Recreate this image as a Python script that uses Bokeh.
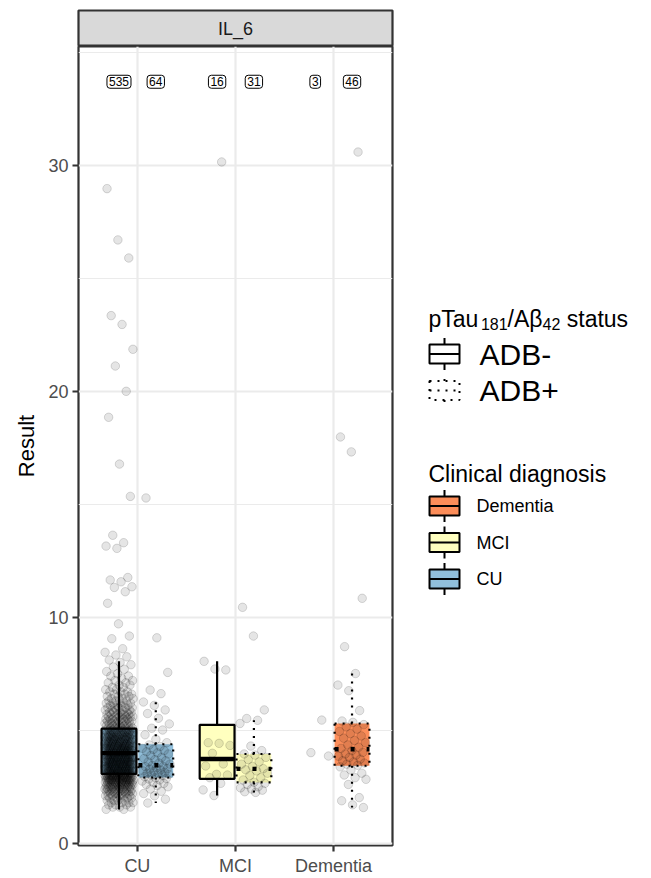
from bokeh.plotting import figure
from bokeh.layouts import row, column
from bokeh.models import Range1d, FixedTicker, Label
from bokeh.embed import file_html
from bokeh.resources import INLINE

FONT = "Liberation Sans"

# ---------------------------------------------------------------- data
diagnoses = ["CU", "MCI", "Dementia"]
diag_colors = {"CU": "#91BFDB", "MCI": "#FFFFBF", "Dementia": "#FC8D59"}
statuses = ["ADB-", "ADB+"]

# CU / ADB-: dense bulk as a 0.1-step frequency table, plus the high values
cu_neg_bulk_values = [1.5, 1.6, 1.7, 1.8, 1.9, 2.0, 2.1, 2.2, 2.3, 2.4, 2.5, 2.6, 2.7, 2.8, 2.9, 3.0,
                      3.1, 3.2, 3.3, 3.4, 3.5, 3.6, 3.7, 3.8, 3.9,
                      4.0, 4.1, 4.2, 4.3, 4.4, 4.5, 4.6, 4.7, 4.8, 4.9, 5.0,
                      5.1, 5.2, 5.3, 5.4, 5.5, 5.6, 5.7, 5.8, 5.9, 6.0, 6.1, 6.2, 6.3, 6.4, 6.5,
                      6.6, 6.7, 6.8, 6.9, 7.0, 7.1, 7.2, 7.3, 7.4, 7.5, 7.6, 7.7, 7.8, 7.9, 8.0]
cu_neg_bulk_counts = [2, 3, 3, 4, 4, 5, 6, 7, 8, 9, 10, 12, 13, 15, 16, 17,
                      15, 15, 15, 15, 15, 15, 15, 15, 14,
                      15, 14, 14, 13, 13, 12, 12, 11, 11, 10, 9,
                      7, 7, 6, 6, 7, 6, 6, 5, 5, 5, 4, 4, 4, 3, 3,
                      3, 3, 2, 2, 2, 2, 2, 1, 2, 1, 1, 1, 1, 1, 1]
cu_neg_high = [8.11, 8.25, 8.33, 8.45, 8.61, 9.05, 9.17, 9.71, 10.62, 11.13, 11.32, 11.35,
               11.57, 11.65, 11.76, 13.05, 13.15, 13.30, 13.63, 15.35, 16.78, 18.85, 20.0,
               21.12, 21.86, 22.96, 23.35, 25.90, 26.70, 28.97]

cu_pos_values = [1.78, 1.95, 2.1, 2.2, 2.3, 2.4, 2.5, 2.55, 2.6, 2.65, 2.7, 2.75, 2.8, 2.84, 2.87, 2.9,
                 2.95, 3.0, 3.02, 3.05, 3.08, 3.1, 3.14, 3.18, 3.2, 3.24, 3.28, 3.3, 3.34, 3.38, 3.4, 3.44,
                 3.5, 3.55, 3.6, 3.65, 3.7, 3.75, 3.8, 3.88, 3.95, 4.0, 4.05, 4.1, 4.15, 4.2, 4.28, 4.35,
                 4.45, 4.6, 4.8, 5.01, 5.09, 5.28, 5.53, 5.74, 5.9, 6.1, 6.25, 6.62, 6.78, 7.56, 9.09, 15.28]

mci_neg_values = [2.11, 2.36, 2.65, 2.9, 3.02, 3.05, 3.42, 3.51, 3.98, 4.33, 4.42, 4.45,
                  7.67, 7.71, 8.05, 30.15]

mci_pos_values = [2.25, 2.28, 2.35, 2.4, 2.45, 2.5, 2.6, 2.65, 2.7, 2.8, 2.9, 3.0, 3.1, 3.2, 3.25,
                  3.3, 3.4, 3.5, 3.6, 3.7, 3.8, 3.9, 3.95, 4.1, 4.3, 5.3, 5.44, 5.52, 5.9, 9.17, 10.44]

dem_neg_values = [5.45, 4.01, 3.86]

dem_pos_values = [1.58, 1.7, 1.88, 2.02, 2.6, 2.83, 2.9, 3.02, 3.1, 3.24, 3.38,
                  3.45, 3.5, 3.55, 3.6, 3.65, 3.72, 3.8, 3.85, 3.9, 3.95, 4.02, 4.1,
                  4.2, 4.25, 4.35, 4.45, 4.55, 4.65, 4.75, 4.85, 4.95, 5.05, 5.15, 5.25,
                  5.35, 5.41, 5.87, 6.75, 7.0, 7.51, 8.70, 10.84, 17.32, 17.98, 30.59]

# boxplot summaries (lower whisker, Q1, median, Q3, upper whisker)
box_diag = ["CU", "CU", "MCI", "MCI", "Dementia"]
box_status = ["ADB-", "ADB+", "ADB-", "ADB+", "ADB+"]
box_lower = [1.49, 1.78, 2.11, 2.25, 1.58]
box_q1 = [3.07, 2.91, 2.85, 2.69, 3.43]
box_median = [3.99, 3.45, 3.73, 3.29, 4.16]
box_q3 = [5.07, 4.38, 5.24, 3.95, 5.30]
box_upper = [8.05, 6.25, 8.05, 5.44, 7.51]

# ---------------------------------------------------------------- helpers
cu_neg_values = []
for v, c in zip(cu_neg_bulk_values, cu_neg_bulk_counts):
    cu_neg_values += [v] * c
cu_neg_values += cu_neg_high

groups = {
    ("CU", "ADB-"): cu_neg_values,
    ("CU", "ADB+"): cu_pos_values,
    ("MCI", "ADB-"): mci_neg_values,
    ("MCI", "ADB+"): mci_pos_values,
    ("Dementia", "ADB-"): dem_neg_values,
    ("Dementia", "ADB+"): dem_pos_values,
}

DODGE = 0.1875
BOX_W = 0.355
JITTER = 0.145
x_of = {d: i + 1 for i, d in enumerate(diagnoses)}
dash_of = {"ADB-": "solid", "ADB+": "2 6"}
median_dash_of = {"ADB-": "solid", "ADB+": "4 12"}


def center(diag, status):
    return x_of[diag] + (-DODGE if status == "ADB-" else DODGE)


def spread(n, phase):
    # evenly spread horizontal offsets (golden-ratio sequence)
    return [(((i * 0.6180339887 + phase) % 1.0) - 0.5) * 2 * JITTER for i in range(n)]


# ---------------------------------------------------------------- main panel
p = figure(width=400, height=832, x_range=Range1d(0.4, 3.6), y_range=Range1d(-0.1, 35.26),
           toolbar_location=None, output_backend="svg", title=None,
           min_border_left=78, min_border_right=8, min_border_top=0, min_border_bottom=33)
p.background_fill_color = "white"
p.border_fill_color = "white"
p.outline_line_color = "#333333"
p.outline_line_width = 2.2

p.xaxis.ticker = FixedTicker(ticks=[1, 2, 3])
p.xaxis.major_label_overrides = {1: "CU", 2: "MCI", 3: "Dementia"}
p.yaxis.ticker = FixedTicker(ticks=[0, 10, 20, 30], minor_ticks=[5, 15, 25, 35])
p.yaxis.axis_label = "Result"
for ax in (p.xaxis[0], p.yaxis[0]):
    ax.axis_line_color = None
    ax.major_tick_line_color = "#333333"
    ax.major_tick_line_width = 2.2
    ax.major_tick_out = 6
    ax.major_tick_in = 0
    ax.minor_tick_out = 0
    ax.minor_tick_in = 0
    ax.major_label_text_font = FONT
    ax.major_label_text_font_size = "18px"
    ax.major_label_text_color = "#4D4D4D"
    ax.major_label_standoff = 4
p.yaxis.axis_label_text_font = FONT
p.yaxis.axis_label_text_font_size = "22px"
p.yaxis.axis_label_text_font_style = "normal"
p.yaxis.axis_label_text_color = "black"
p.yaxis.axis_label_standoff = 6

p.xgrid.grid_line_color = "#EBEBEB"
p.xgrid.grid_line_width = 2.2
p.ygrid.grid_line_color = "#EBEBEB"
p.ygrid.grid_line_width = 2.2
p.ygrid.minor_grid_line_color = "#EBEBEB"
p.ygrid.minor_grid_line_width = 1.1

# boxes, whiskers and medians
for status in statuses:
    idx = [i for i, s in enumerate(box_status) if s == status]
    cx = [center(box_diag[i], status) for i in idx]
    p.segment(x0=cx, x1=cx, y0=[box_q3[i] for i in idx], y1=[box_upper[i] for i in idx],
              line_color="black", line_width=2.2, line_dash=dash_of[status])
    p.segment(x0=cx, x1=cx, y0=[box_q1[i] for i in idx], y1=[box_lower[i] for i in idx],
              line_color="black", line_width=2.2, line_dash=dash_of[status])
    p.quad(left=[c - BOX_W / 2 for c in cx], right=[c + BOX_W / 2 for c in cx],
           bottom=[box_q1[i] for i in idx], top=[box_q3[i] for i in idx],
           fill_color=[diag_colors[box_diag[i]] for i in idx],
           line_color="black", line_width=2.2, line_dash=dash_of[status])
    p.segment(x0=[c - BOX_W / 2 for c in cx], x1=[c + BOX_W / 2 for c in cx],
              y0=[box_median[i] for i in idx], y1=[box_median[i] for i in idx],
              line_color="black", line_width=4.4, line_dash=median_dash_of[status])

# jittered observations
for k, ((diag, status), vals) in enumerate(groups.items()):
    c = center(diag, status)
    xs = [c + o for o in spread(len(vals), 0.17 * k + 0.05)]
    p.scatter(x=xs, y=vals, size=8.5, fill_color="black", fill_alpha=0.1,
              line_color="black", line_alpha=0.14, line_width=1)

# group sizes
for (diag, status), vals in groups.items():
    p.add_layout(Label(x=center(diag, status), y=33.7, text=str(len(vals)),
                       text_align="center", text_baseline="middle",
                       text_font=FONT, text_font_size="12px", text_color="black",
                       background_fill_color="white", border_line_color="black",
                       border_line_width=1, border_radius=3, padding=2))

# ---------------------------------------------------------------- facet strip
strip = figure(width=400, height=46, x_range=Range1d(0, 1), y_range=Range1d(0, 1),
               toolbar_location=None, output_backend="svg", title=None,
               x_axis_location=None, y_axis_location=None,
               min_border_left=78, min_border_right=8, min_border_top=10, min_border_bottom=0)
strip.grid.visible = False
strip.background_fill_color = "#D9D9D9"
strip.outline_line_color = "#333333"
strip.outline_line_width = 2.2
strip.add_layout(Label(x=0.5, y=0.5, text="IL_6", text_align="center", text_baseline="middle",
                       text_font=FONT, text_font_size="18px", text_color="#1A1A1A"))

# ---------------------------------------------------------------- legends
leg = figure(width=251, height=878, x_range=Range1d(400, 651), y_range=Range1d(878, 0),
             toolbar_location=None, output_backend="svg", title=None,
             x_axis_location=None, y_axis_location=None, min_border=0)
leg.grid.visible = False
leg.outline_line_color = None

ARIAL_W = {"p": .556, "T": .611, "a": .556, "u": .556, "1": .556, "8": .556, "/": .278,
           "A": .667, "β": .575, "4": .556, "2": .556, "s": .5, "t": .278, " ": .278}
title_parts = [("pTau", False), ("181", True), ("/Aβ", False), ("42", True), (" status", False)]
tx = 428
for txt, sub in title_parts:
    size = 16 if sub else 23
    width = sum(ARIAL_W[ch] for ch in txt) * size
    shown = txt.lstrip()
    lead = sum(ARIAL_W[ch] for ch in txt[:len(txt) - len(shown)]) * size
    leg.add_layout(Label(x=tx + lead, y=318 + (5 if sub else 0), text=shown,
                         text_baseline="alphabetic", text_font=FONT,
                         text_font_size=f"{size}px", text_color="black"))
    tx += width

KEY_L, KEY_R = 429, 459


def draw_key(cy, fill, dash):
    kx = (KEY_L + KEY_R) / 2
    leg.segment(x0=[kx, kx], x1=[kx, kx], y0=[cy - 9.5, cy + 9.5], y1=[cy - 16, cy + 16],
                line_color="black", line_width=2, line_dash=dash)
    leg.quad(left=[KEY_L], right=[KEY_R], top=[cy - 9.5], bottom=[cy + 9.5],
             fill_color=fill, line_color="black", line_width=2, line_dash=dash)
    leg.segment(x0=[KEY_L], x1=[KEY_R], y0=[cy], y1=[cy], line_color="black",
                line_width=2, line_dash=dash)


for cy, status in zip([353.5, 390], statuses):
    draw_key(cy, "white", dash_of[status])
    leg.add_layout(Label(x=479, y=cy, text=status, text_baseline="middle", text_font=FONT,
                         text_font_size="30px", text_color="black"))

leg.add_layout(Label(x=428, y=473, text="Clinical diagnosis", text_baseline="alphabetic",
                     text_font=FONT, text_font_size="23px", text_color="black"))
for cy, diag in zip([505.5, 542, 578.5], ["Dementia", "MCI", "CU"]):
    draw_key(cy, diag_colors[diag], "solid")
    leg.add_layout(Label(x=476, y=cy, text=diag, text_baseline="middle", text_font=FONT,
                         text_font_size="18px", text_color="black"))

layout = row(column(strip, p), leg)
open("out.html", "w").write(file_html(layout, INLINE))
